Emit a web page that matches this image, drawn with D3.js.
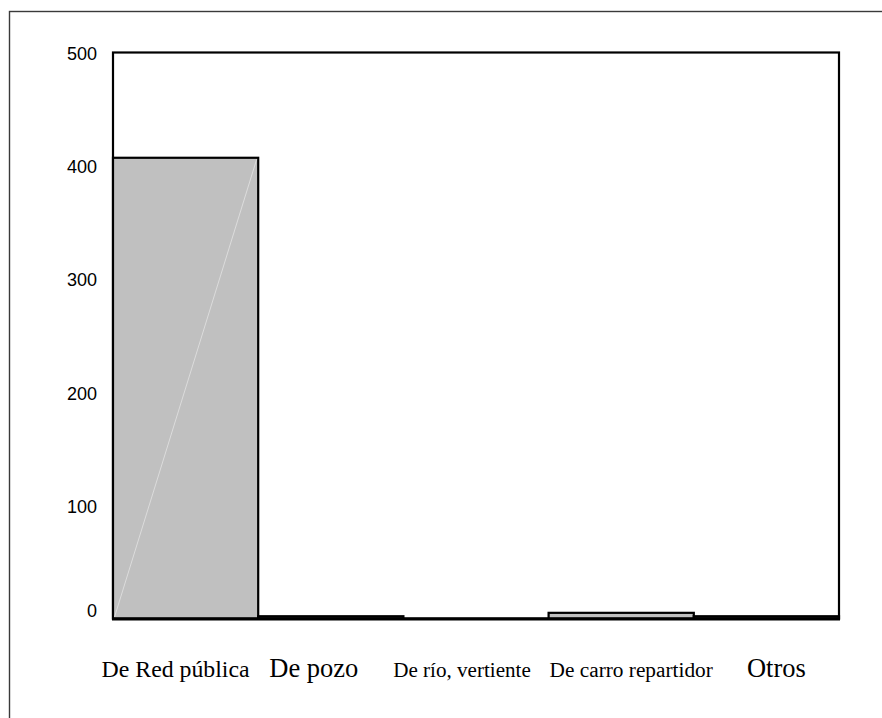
<!DOCTYPE html>
<html>
<head>
<meta charset="utf-8">
<script src="https://cdn.jsdelivr.net/npm/d3@7"></script>
<style>
  html, body { margin: 0; padding: 0; background: #ffffff; }
  svg { display: block; }
</style>
</head>
<body>
<script>
// ---- data ----
const categories = ["De Red pública", "De pozo", "De río, vertiente", "De carro repartidor", "Otros"];
const values = [407, 2, 0, 5, 2];
const yTicks = [0, 100, 200, 300, 400, 500];

// ---- style / layout constants ----
const W = 882, H = 718;
const plot = { left: 113, right: 839, top: 52.5, bottom: 618.5 };
const labelFontSizes = [23.8, 26.5, 21.1, 21.3, 26.5];
const labelShift = [-10, -17, -14, 10, 10];

const svg = d3.select("body").append("svg").attr("width", W).attr("height", H);

// outer border (right/bottom edges fall outside the frame)
svg.append("rect")
  .attr("x", 9.5).attr("y", 11.5).attr("width", 1000).attr("height", 1000)
  .attr("fill", "none").attr("stroke", "#3a3a3a").attr("stroke-width", 1.4);

const x = d3.scaleBand().domain(categories).range([plot.left, plot.right]).padding(0);
const y = d3.scaleLinear().domain([0, 500]).range([plot.bottom, plot.top]);

// plot frame
svg.append("rect")
  .attr("x", plot.left).attr("y", plot.top)
  .attr("width", plot.right - plot.left).attr("height", plot.bottom - plot.top)
  .attr("fill", "#ffffff").attr("stroke", "#000").attr("stroke-width", 2.2);

// bars
svg.append("g").selectAll("rect")
  .data(values)
  .join("rect")
  .attr("x", (d, i) => x(categories[i]))
  .attr("width", x.bandwidth())
  .attr("y", d => y(d))
  .attr("height", d => y(0) - y(d))
  .attr("fill", "#c0c0c0")
  .attr("stroke", "#000")
  .attr("stroke-width", 2.2);

// faint diagonal artefact inside first bar
svg.append("line")
  .attr("x1", x(categories[0]) + 1.5).attr("y1", y(0) - 1.5)
  .attr("x2", x(categories[0]) + x.bandwidth() - 1.5).attr("y2", y(values[0]) + 1.5)
  .attr("stroke", "#dcdcdc").attr("stroke-width", 1);

// bottom axis line (thicker)
svg.append("line")
  .attr("x1", plot.left - 1).attr("x2", plot.right + 1)
  .attr("y1", y(0) + 0.5).attr("y2", y(0) + 0.5)
  .attr("stroke", "#000").attr("stroke-width", 3);

// y tick labels
svg.append("g").selectAll("text")
  .data(yTicks)
  .join("text")
  .attr("x", plot.left - 16)
  .attr("y", d => Math.min(y(d) + 1.5, y(0) - 7.5))
  .attr("text-anchor", "end")
  .attr("dominant-baseline", "central")
  .attr("font-family", "'Liberation Sans', Arial, sans-serif")
  .attr("font-size", 18)
  .attr("fill", "#000")
  .text(d => d);

// category labels
svg.append("g").selectAll("text")
  .data(categories)
  .join("text")
  .attr("x", (d, i) => x(d) + x.bandwidth() / 2 + labelShift[i])
  .attr("y", 677)
  .attr("text-anchor", "middle")
  .attr("font-family", "'Liberation Serif', 'Times New Roman', serif")
  .attr("font-size", (d, i) => labelFontSizes[i])
  .attr("fill", "#000")
  .text(d => d);
</script>
</body>
</html>
